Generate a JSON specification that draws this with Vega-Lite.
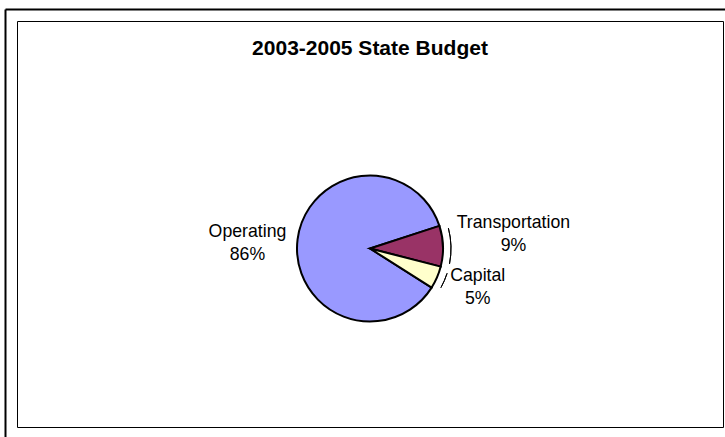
{
  "$schema": "https://vega.github.io/schema/vega-lite/v6.json",
  "width": 706,
  "height": 406,
  "autosize": {"type": "none"},
  "padding": {"left": 17, "top": 21, "right": 2, "bottom": 10},
  "background": "white",
  "title": {"text": "2003-2005 State Budget", "font": "Liberation Sans", "fontSize": 21, "fontWeight": "bold", "color": "black", "anchor": "middle", "offset": -50},
  "config": {"view": {"stroke": "black", "strokeWidth": 1}},
  "data": {"values": [
    {"category": "Operating", "share": 86},
    {"category": "Transportation", "share": 9},
    {"category": "Capital", "share": 5}
  ]},
  "layer": [
    {
      "mark": {"type": "point", "opacity": 0},
      "encoding": {
        "x": {"datum": 0, "type": "quantitative", "scale": {"domain": [0, 1], "range": [-12, 708]}, "axis": {"orient": "top", "offset": 12, "domainColor": "black", "domainWidth": 2, "ticks": false, "labels": false, "grid": false, "title": null}},
        "y": {"datum": 0, "type": "quantitative", "scale": {"domain": [0, 1], "range": [416, -12]}, "axis": {"orient": "left", "offset": 12, "domainColor": "black", "domainWidth": 2, "ticks": false, "labels": false, "grid": false, "title": null}}
      }
    },
    {
      "mark": {"type": "arc", "radius": 73, "stroke": "black", "strokeWidth": 2, "yOffset": 24.5},
      "encoding": {
        "theta": {"field": "share", "type": "quantitative", "stack": true, "scale": {"range": [2.136, 8.419]}},
        "order": {"field": "share", "sort": "descending"},
        "color": {"field": "category", "type": "nominal", "scale": {"domain": ["Operating", "Transportation", "Capital"], "range": ["#9999FF", "#993366", "#FFFFCC"]}, "legend": null}
      }
    },
    {
      "mark": {"type": "arc", "radius": 81, "radius2": 81, "padAngle": 0.085, "filled": false, "stroke": "black", "strokeWidth": 1, "yOffset": 24.5},
      "encoding": {
        "theta": {"field": "share", "type": "quantitative", "stack": true},
        "order": {"field": "share", "sort": "descending"},
        "opacity": {"condition": {"test": "datum.category === 'Operating'", "value": 0}, "value": 1}
      }
    },
    {
      "transform": [{"calculate": "[datum.category, datum.share + '%']", "as": "label"}],
      "mark": {"type": "text", "font": "Liberation Sans", "fontSize": 17.7, "lineHeight": 23, "color": "black", "align": "center", "baseline": "middle", "yOffset": 14.5, "thetaOffset": -0.073, "radius": {"expr": "84 + 4.3*length(datum.category)"}},
      "encoding": {
        "theta": {"field": "share", "type": "quantitative", "stack": true},
        "order": {"field": "share", "sort": "descending"},
        "text": {"field": "label"}
      }
    }
  ]
}
